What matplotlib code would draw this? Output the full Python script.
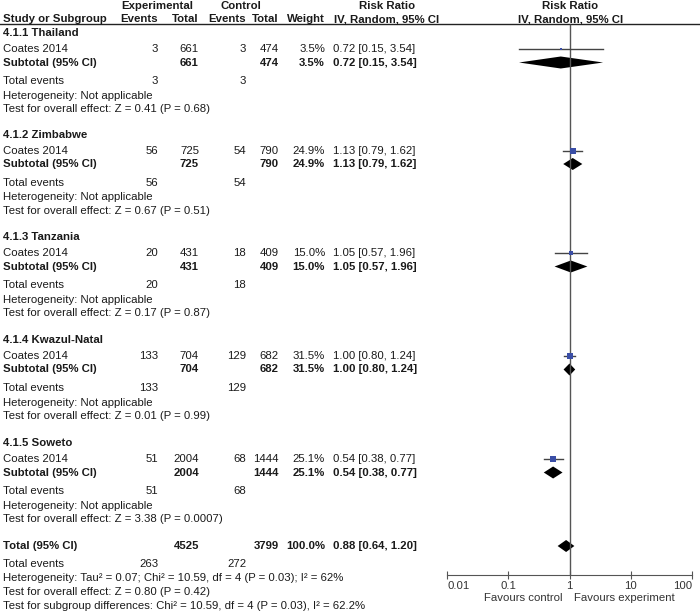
import numpy as np
import matplotlib
matplotlib.use('Agg')
from matplotlib import pyplot as plt

plt.rcParams['font.family'] = ['Liberation Sans', 'DejaVu Sans']
plt.rcParams['font.size'] = 8.2

groups = ['4.1.1 Thailand', '4.1.2 Zimbabwe', '4.1.3 Tanzania',
          '4.1.4 Kwazul-Natal', '4.1.5 Soweto']
study = 'Coates 2014'
exp_events = [3, 56, 20, 133, 51]
exp_total = [661, 725, 431, 704, 2004]
ctl_events = [3, 54, 18, 129, 68]
ctl_total = [474, 790, 409, 682, 1444]
weight = [3.5, 24.9, 15.0, 31.5, 25.1]
rr = [0.72, 1.13, 1.05, 1.00, 0.54]
rr_lo = [0.15, 0.79, 0.57, 0.80, 0.38]
rr_hi = [3.54, 1.62, 1.96, 1.24, 0.77]
z_tests = ['Z = 0.41 (P = 0.68)', 'Z = 0.67 (P = 0.51)', 'Z = 0.17 (P = 0.87)',
           'Z = 0.01 (P = 0.99)', 'Z = 3.38 (P = 0.0007)']

tot_exp_events, tot_exp_total = 263, 4525
tot_ctl_events, tot_ctl_total = 272, 3799
tot_weight = 100.0
tot_rr, tot_lo, tot_hi = 0.88, 0.64, 1.20
tot_het = 'Heterogeneity: Tau\u00b2 = 0.07; Chi\u00b2 = 10.59, df = 4 (P = 0.03); I\u00b2 = 62%'
tot_z = 'Test for overall effect: Z = 0.80 (P = 0.42)'
subgroup_test = 'Test for subgroup differences: Chi\u00b2 = 10.59, df = 4 (P = 0.03), I\u00b2 = 62.2%'

ticks = [0.01, 0.1, 1, 10, 100]
tick_labels = ['0.01', '0.1', '1', '10', '100']

# layout (pixels, figure is 700 x 612)
W, H = 700, 612
group_top = [33, 134.5, 237, 340, 443]
total_top = 546
axis_y = 575
TXT = '#1a1a1a'
GRAY = '#555555'
BLUE = '#3a4ea6'

fig = plt.figure(figsize=(W / 100, H / 100), dpi=100)
ax = fig.add_axes([0, 0, 1, 1])
ax.set_xlim(0, W)
ax.set_ylim(H, 0)
ax.axis('off')

fx0, fx1 = 447, 692
fa = fig.add_axes([fx0 / W, 0, (fx1 - fx0) / W, 1])
fa.set_xscale('log')
fa.set_xlim(0.01, 100)
fa.set_ylim(H, 0)
fa.patch.set_alpha(0)
for s in ['top', 'left', 'right']:
    fa.spines[s].set_visible(False)
fa.spines['bottom'].set_position(('data', axis_y))
fa.spines['bottom'].set_color(GRAY)
fa.set_xticks(ticks)
fa.set_xticklabels(tick_labels)
fa.minorticks_off()
fa.set_yticks([])
fa.tick_params(axis='x', direction='inout', length=6, color=GRAY,
               labelcolor='#333333', labelsize=8.2, pad=1)
# end labels sit inside the axis span
labs = fa.get_xticklabels()
labs[0].set_horizontalalignment('left')
labs[-1].set_horizontalalignment('right')


def t(x, y, s, ha='left', bold=False, color=TXT):
    ax.text(x, y, s, ha=ha, va='center', color=color,
            fontweight='bold' if bold else 'normal')


# headers
t(157, 6, 'Experimental', 'center', True)
t(241, 6, 'Control', 'center', True)
t(387, 6, 'Risk Ratio', 'center', True)
t(570, 6, 'Risk Ratio', 'center', True)
t(3, 19, 'Study or Subgroup', bold=True)
t(158, 19, 'Events', 'right', True)
t(199, 19, 'Total', 'right', True)
t(246, 19, 'Events', 'right', True)
t(279, 19, 'Total', 'right', True)
t(325, 19, 'Weight', 'right', True)
t(387, 19, 'IV, Random, 95% CI', 'center', True)
t(571, 19, 'IV, Random, 95% CI', 'center', True)
ax.axhline(24, color='#222222', lw=1)

fa.vlines(1, 24, axis_y, color=GRAY, lw=1)


def diamond(y, est, lo, hi, h=12):
    fa.fill([lo, est, hi, est], [y, y - h / 2, y, y + h / 2], color='black', lw=0)


for i, g in enumerate(groups):
    b = group_top[i]
    ys, ysub = b + 16, b + 29.5
    ci = f'{rr[i]:.2f} [{rr_lo[i]:.2f}, {rr_hi[i]:.2f}]'
    t(3, b, g, bold=True)
    t(3, ys, study)
    t(158, ys, str(exp_events[i]), 'right')
    t(199, ys, str(exp_total[i]), 'right')
    t(246, ys, str(ctl_events[i]), 'right')
    t(279, ys, str(ctl_total[i]), 'right')
    t(325, ys, f'{weight[i]:.1f}%', 'right')
    t(333, ys, ci)
    t(3, ysub, 'Subtotal (95% CI)', bold=True)
    t(199, ysub, str(exp_total[i]), 'right', True)
    t(279, ysub, str(ctl_total[i]), 'right', True)
    t(325, ysub, f'{weight[i]:.1f}%', 'right', True)
    t(333, ysub, ci, bold=True)
    t(3, b + 48, 'Total events')
    t(158, b + 48, str(exp_events[i]), 'right')
    t(246, b + 48, str(ctl_events[i]), 'right')
    t(3, b + 63, 'Heterogeneity: Not applicable')
    t(3, b + 76, 'Test for overall effect: ' + z_tests[i])

    fa.plot([rr_lo[i], rr_hi[i]], [ys, ys], color='#444444', lw=1)
    side = 1.07 * np.sqrt(weight[i])
    fa.plot(rr[i], ys, marker='s', ms=side * 0.72, color=BLUE, mec=BLUE, mew=0)
    diamond(ysub, rr[i], rr_lo[i], rr_hi[i])

# overall
yt = total_top
t(3, yt, 'Total (95% CI)', bold=True)
t(199, yt, str(tot_exp_total), 'right', True)
t(279, yt, str(tot_ctl_total), 'right', True)
t(325, yt, f'{tot_weight:.1f}%', 'right', True)
t(333, yt, f'{tot_rr:.2f} [{tot_lo:.2f}, {tot_hi:.2f}]', bold=True)
t(3, yt + 18, 'Total events')
t(158, yt + 18, str(tot_exp_events), 'right')
t(246, yt + 18, str(tot_ctl_events), 'right')
t(3, yt + 32, tot_het)
t(3, yt + 46, tot_z)
t(3, yt + 60, subgroup_test)
diamond(yt, tot_rr, tot_lo, tot_hi)

t(563, 598, 'Favours control', 'right', color='#333333')
t(574, 598, 'Favours experiment', color='#333333')

fig.savefig('out.png', dpi=100)
